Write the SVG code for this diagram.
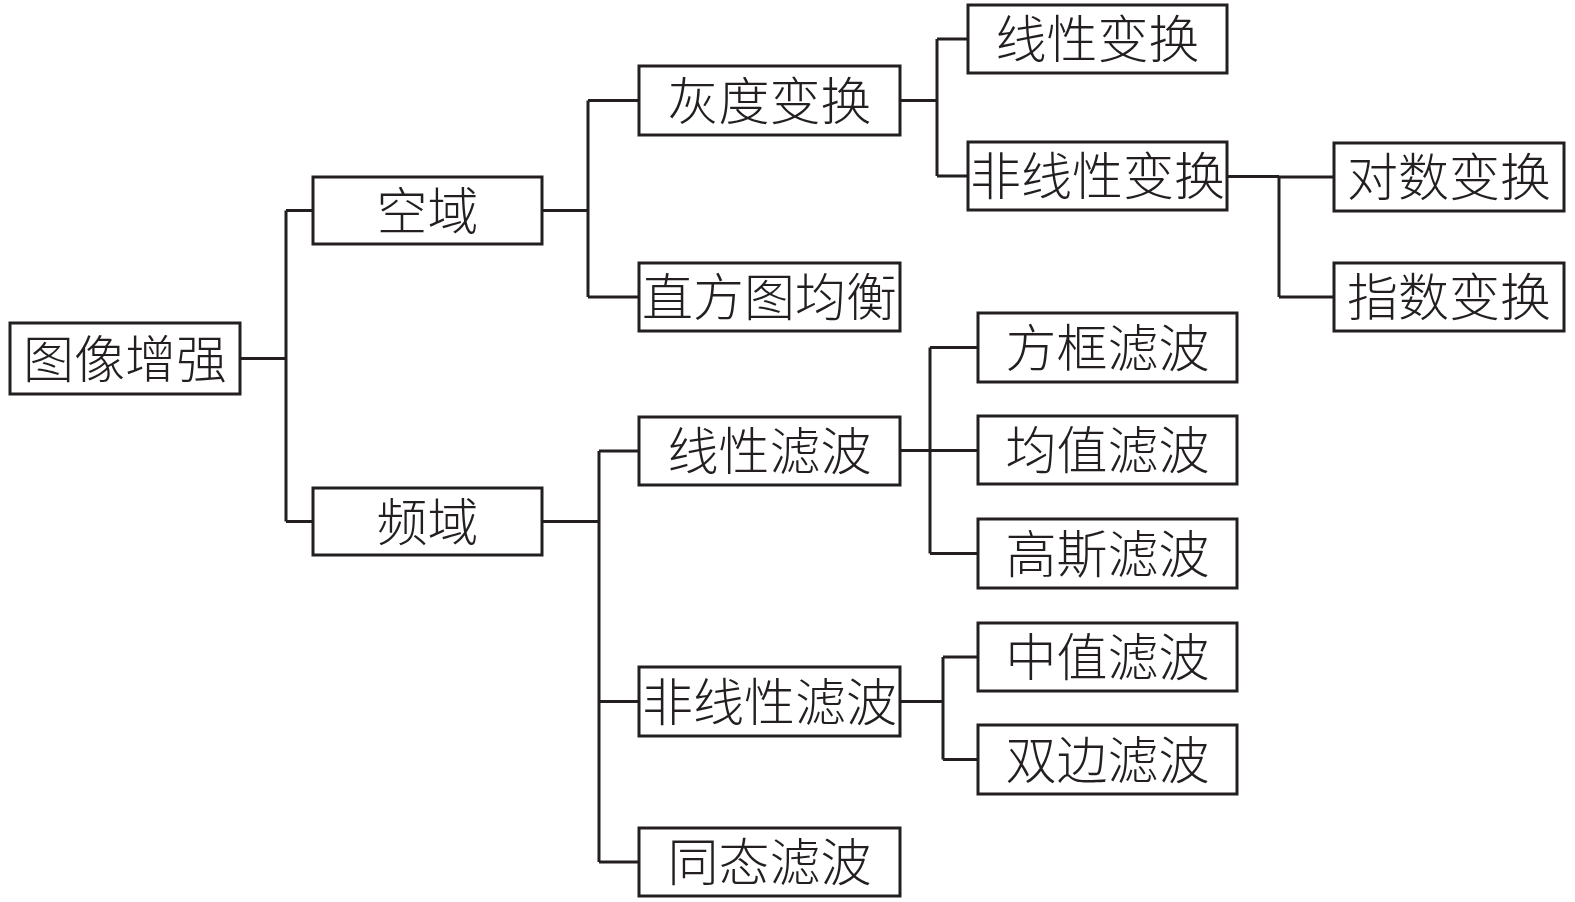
<svg xmlns="http://www.w3.org/2000/svg" width="1575" height="902" viewBox="0 0 1575 902">
<style>
.box{fill:#fff;stroke:#231f20;stroke-width:3}
.lbl{font-family:"Noto Sans CJK SC","Noto Sans CJK JP",sans-serif;font-size:51px;font-weight:300;fill:#231f20;text-anchor:middle;dominant-baseline:central}
.con{fill:none;stroke:#231f20;stroke-width:3}
</style>
<rect width="1575" height="902" fill="#fff"/>
<g id="connectors" class="con">
<path d="M240,358.5H286M286,210.5V521.5M286,210.5H313M286,521.5H313"/>
<path d="M542,210.5H588M588,100.5V297M588,100.5H639M588,297H639"/>
<path d="M900,100.5H937M937,39V176M937,39H968M937,176H968"/>
<path d="M1227,176.5H1279M1279,176.5V297M1279,177H1334M1279,297H1334"/>
<path d="M542,521.5H599M599,451V862M599,451H639M599,701.5H639M599,862H639"/>
<path d="M900,450.5H978M930,347.5V553.5M930,347.5H978M930,553.5H978"/>
<path d="M900,701.5H943M943,657V759.5M943,657H978M943,759.5H978"/>
</g>
<g id="n_root"><rect class="box" x="10" y="323" width="230" height="71"/><text class="lbl" x="125" y="355.5">图像增强</text></g>
<g id="n_kongyu"><rect class="box" x="313" y="177" width="229" height="67"/><text class="lbl" x="427.5" y="207.5">空域</text></g>
<g id="n_pinyu"><rect class="box" x="313" y="488" width="229" height="67"/><text class="lbl" x="427.5" y="518.5">频域</text></g>
<g id="n_huidu"><rect class="box" x="639" y="66" width="261" height="69"/><text class="lbl" x="769.5" y="97.5">灰度变换</text></g>
<g id="n_zhifang"><rect class="box" x="639" y="263" width="261" height="68"/><text class="lbl" x="769.5" y="294">直方图均衡</text></g>
<g id="n_xianxing_bh"><rect class="box" x="968" y="5" width="259" height="68"/><text class="lbl" x="1097.5" y="36">线性变换</text></g>
<g id="n_feixianxing_bh"><rect class="box" x="968" y="142" width="259" height="68"/><text class="lbl" x="1097.5" y="173">非线性变换</text></g>
<g id="n_duishu"><rect class="box" x="1334" y="143" width="230" height="68"/><text class="lbl" x="1449" y="174">对数变换</text></g>
<g id="n_zhishu"><rect class="box" x="1334" y="263" width="230" height="68"/><text class="lbl" x="1449" y="294">指数变换</text></g>
<g id="n_xianxing_lb"><rect class="box" x="639" y="417" width="261" height="68"/><text class="lbl" x="769.5" y="448">线性滤波</text></g>
<g id="n_feixianxing_lb"><rect class="box" x="639" y="667" width="261" height="69"/><text class="lbl" x="769.5" y="698.5">非线性滤波</text></g>
<g id="n_tongtai"><rect class="box" x="639" y="828" width="261" height="68"/><text class="lbl" x="769.5" y="859">同态滤波</text></g>
<g id="n_fangkuang"><rect class="box" x="978" y="313" width="259" height="69"/><text class="lbl" x="1107.5" y="344.5">方框滤波</text></g>
<g id="n_junzhi"><rect class="box" x="978" y="416" width="259" height="68"/><text class="lbl" x="1107.5" y="447">均值滤波</text></g>
<g id="n_gaosi"><rect class="box" x="978" y="519" width="259" height="69"/><text class="lbl" x="1107.5" y="550.5">高斯滤波</text></g>
<g id="n_zhongzhi"><rect class="box" x="978" y="623" width="259" height="68"/><text class="lbl" x="1107.5" y="654">中值滤波</text></g>
<g id="n_shuangbian"><rect class="box" x="978" y="725" width="259" height="69"/><text class="lbl" x="1107.5" y="756.5">双边滤波</text></g>
</svg>
